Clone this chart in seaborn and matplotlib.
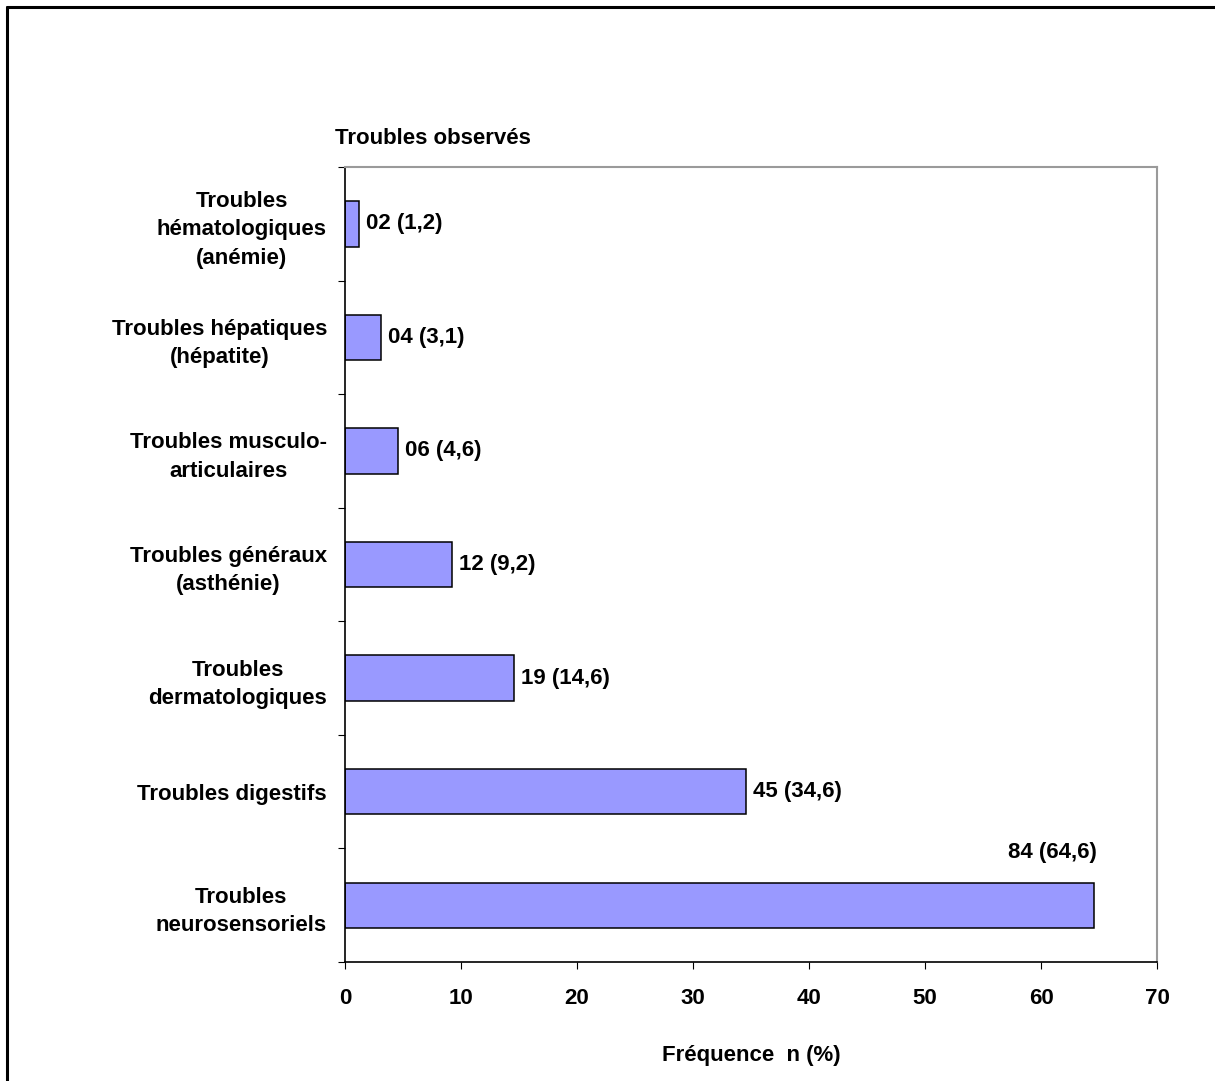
import matplotlib
matplotlib.use("Agg")
import matplotlib.pyplot as plt
from matplotlib.lines import Line2D
import seaborn as sns
import pandas as pd

# donnees
categories = [
    "Troubles\nhématologiques\n(anémie)",
    "Troubles hépatiques\n(hépatite)",
    "Troubles musculo-\narticulaires",
    "Troubles généraux\n(asthénie)",
    "Troubles\ndermatologiques",
    "Troubles digestifs",
    "Troubles\nneurosensoriels",
]
effectifs = [2, 4, 6, 12, 19, 45, 84]
pourcentages = [1.2, 3.1, 4.6, 9.2, 14.6, 34.6, 64.6]
xticks = [0, 10, 20, 30, 40, 50, 60, 70]

df = pd.DataFrame({"cat": categories, "n": effectifs, "pct": pourcentages})

sns.set_style("white")
plt.rcParams["font.family"] = ["Liberation Sans", "DejaVu Sans"]
plt.rcParams["font.weight"] = "bold"
plt.rcParams["font.size"] = 16
plt.rcParams["text.color"] = "black"
plt.rcParams["axes.labelcolor"] = "black"
plt.rcParams["xtick.color"] = "black"
plt.rcParams["ytick.color"] = "black"

fig = plt.figure(figsize=(12.15, 10.81), dpi=100)
ax = fig.add_axes([345 / 1215, 1 - 962 / 1081, (1157 - 345) / 1215, (962 - 167) / 1081])

sns.barplot(data=df, x="pct", y="cat", orient="h", color="#9999FF",
            edgecolor="black", linewidth=1.1, width=0.4, saturation=1, ax=ax)

ax.set_xlim(0, 70)
ax.set_ylim(6.5, -0.5)
ax.set_xticks(xticks)
ax.set_xticklabels([str(t) for t in xticks], fontweight="bold")
ax.set_yticks(range(len(categories)))
ax.set_yticklabels(categories, fontweight="bold", linespacing=1.45)
for t in ax.get_yticklabels():
    t.set_multialignment("center")
ax.set_yticks([i - 0.5 for i in range(len(categories) + 1)], minor=True)
ax.tick_params(axis="y", which="major", left=True, length=0, pad=13)
ax.tick_params(axis="y", which="minor", left=True, length=5, width=0.8, direction="out")
ax.tick_params(axis="x", which="major", bottom=True, length=5, width=0.8, direction="out", pad=14)

ax.set_ylabel("")
ax.set_xlabel("Fréquence  n (%)", fontweight="bold", labelpad=26)

for side in ["left", "bottom"]:
    ax.spines[side].set_color("black")
    ax.spines[side].set_linewidth(1.2)
for side in ["top", "right"]:
    ax.spines[side].set_visible(True)
    ax.spines[side].set_color("#9a9a9a")
    ax.spines[side].set_linewidth(1.5)

# etiquettes des barres
for i, (n, p) in enumerate(zip(effectifs, pourcentages)):
    txt = "{:02d} ({})".format(n, str(p).replace(".", ","))
    if i == len(effectifs) - 1:
        ax.annotate(txt, xy=(p, i), xytext=(2, 38), textcoords="offset points",
                    ha="right", va="center", fontweight="bold")
    else:
        ax.annotate(txt, xy=(p, i), xytext=(5, 0), textcoords="offset points",
                    ha="left", va="center", fontweight="bold")

fig.text(335 / 1215, 1 - 138 / 1081, "Troubles observés", ha="left", va="center",
         fontweight="bold", fontsize=16)

# cadre autour de la figure (coupé a droite et en bas)
fig.add_artist(Line2D([7 / 1215, 7 / 1215], [0, 1 - 7 / 1081], color="black", lw=2.2))
fig.add_artist(Line2D([7 / 1215, 1], [1 - 7 / 1081, 1 - 7 / 1081], color="black", lw=2.2))

fig.savefig("out.png", dpi=100, facecolor="white")
